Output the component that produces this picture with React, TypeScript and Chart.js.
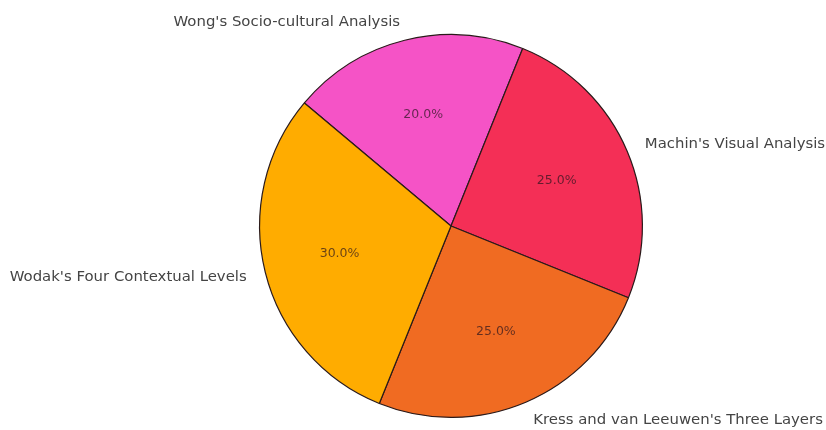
import React, { useEffect, useRef } from "react";
import { Chart, registerables } from "chart.js";

Chart.register(...registerables);

const categories = [
  "Wong's Socio-cultural Analysis",
  "Machin's Visual Analysis",
  "Kress and van Leeuwen's Three Layers",
  "Wodak's Four Contextual Levels",
];
const shares = [20, 25, 25, 30];
const sliceColors = ["#F553C6", "#F42F56", "#F06B22", "#FFAC00"];

const labelPlugin = {
  id: "pieLabels",
  afterDraw(chart: any) {
    const ctx = chart.ctx;
    const meta = chart.getDatasetMeta(0);
    const data = chart.data.datasets[0].data as number[];
    const total = data.reduce((a, b) => a + b, 0);
    ctx.save();
    meta.data.forEach((arc: any, i: number) => {
      const p = arc.getProps(["x", "y", "startAngle", "endAngle", "outerRadius"], true);
      const mid = (p.startAngle + p.endAngle) / 2;
      const c = Math.cos(mid);
      const s = Math.sin(mid);
      const lr = p.outerRadius * 1.1;
      ctx.font = "14.9px 'DejaVu Sans'";
      ctx.fillStyle = "#444444";
      ctx.textBaseline = "middle";
      ctx.textAlign = c > 0 ? "left" : "right";
      ctx.fillText(chart.data.labels[i], p.x + lr * c, p.y + lr * s);
      const pr = p.outerRadius * 0.6;
      ctx.font = "12.5px 'DejaVu Sans'";
      ctx.fillStyle = "rgba(40,20,30,0.7)";
      ctx.textAlign = "center";
      ctx.fillText(((data[i] / total) * 100).toFixed(1) + "%", p.x + pr * c, p.y + pr * s);
    });
    ctx.restore();
  },
};

export default function App() {
  const ref = useRef<HTMLCanvasElement>(null);
  useEffect(() => {
    if (!ref.current) return;
    const chart = new Chart(ref.current, {
      type: "pie",
      data: {
        labels: categories,
        datasets: [
          {
            data: shares,
            backgroundColor: sliceColors,
            borderColor: "#2a1a1a",
            borderWidth: 1.2,
          },
        ],
      },
      options: {
        animation: false,
        responsive: false,
        rotation: -50,
        layout: { padding: { top: 34, bottom: 12, left: 259, right: 183 } },
        plugins: {
          legend: { display: false },
          tooltip: { enabled: false },
        },
      },
      plugins: [labelPlugin],
    });
    return () => chart.destroy();
  }, []);
  return (
    <div style={{ position: "fixed", left: 0, top: 0, width: 826, height: 430, background: "#fff" }}>
      <canvas ref={ref} width={826} height={430} style={{ width: 826, height: 430, display: "block" }} />
    </div>
  );
}
